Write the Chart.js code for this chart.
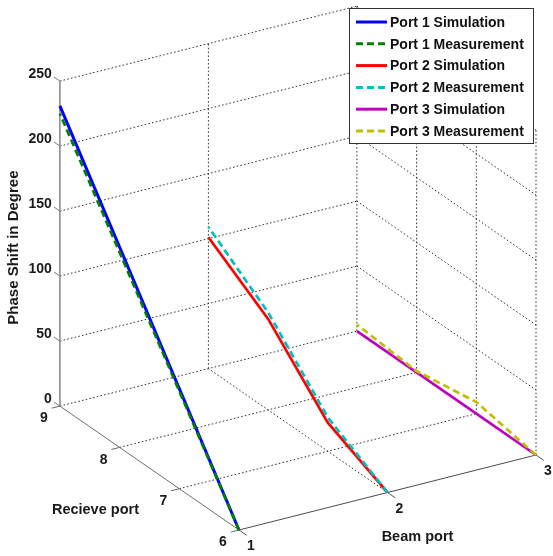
<!DOCTYPE html>
<html>
<head>
<meta charset="utf-8">
<script src="https://cdn.jsdelivr.net/npm/chart.js@4.4.0/dist/chart.umd.min.js"></script>
<style>
  html, body { margin: 0; padding: 0; background: #fff; }
  canvas { display: block; }
</style>
</head>
<body>
<canvas id="phaseChart" width="553" height="556"></canvas>
<script>
const beamPorts = [1, 2, 3];
const receivePorts = [6, 7, 8, 9];
const phaseTicks = [0, 50, 100, 150, 200, 250];

// phase (deg) at receive port 6, 7, 8, 9
const port1Sim = [0, 77, 154, 231];
const port1Meas = [0, 75, 150, 225];
const port2Sim = [0, 22, 70, 101];
const port2Meas = [0, 26, 75, 109];
const port3Sim = [0, 0, 0, 0];
const port3Meas = [0, 9, 1, 5];

const seriesNames = ["Port 1 Simulation", "Port 1 Measurement", "Port 2 Simulation",
  "Port 2 Measurement", "Port 3 Simulation", "Port 3 Measurement"];
const seriesBeam = [1, 1, 2, 2, 3, 3];
const seriesValues = [port1Sim, port1Meas, port2Sim, port2Meas, port3Sim, port3Meas];
const seriesColors = ["#0000ff", "#008000", "#ff0000", "#00bfbf", "#bf00bf", "#bfbf00"];

// 3d view: where beam 1 / receive 6 / 0 deg lands, and one step along each axis
const view = { ox: 239, oy: 530, bx: 148.5, by: -37.5, rx: -59.7, ry: -41.3, zy: -1.3 };
function proj(b, r, z) {
  return {
    x: view.ox + (b - 1) * view.bx + (r - 6) * view.rx,
    y: view.oy + (b - 1) * view.by + (r - 6) * view.ry + z * view.zy
  };
}

const bMin = beamPorts[0], bMax = beamPorts[beamPorts.length - 1];
const rMin = receivePorts[0], rMax = receivePorts[receivePorts.length - 1];
const zMax = phaseTicks[phaseTicks.length - 1];

// dotted grid on the back wall, side wall and floor
const grid = [];
phaseTicks.forEach(z => {
  grid.push([proj(bMin, rMax, z), proj(bMax, rMax, z)]);
  grid.push([proj(bMax, rMax, z), proj(bMax, rMin, z)]);
});
beamPorts.slice(1).forEach(b => grid.push([proj(b, rMax, 0), proj(b, rMax, zMax)]));
receivePorts.slice(0, -1).forEach(r => grid.push([proj(bMax, r, 0), proj(bMax, r, zMax)]));
receivePorts.slice(1, -1).forEach(r => grid.push([proj(bMin, r, 0), proj(bMax, r, 0)]));
beamPorts.slice(1, -1).forEach(b => grid.push([proj(b, rMin, 0), proj(b, rMax, 0)]));

// solid axes and tick marks
const axes = [
  { pts: [proj(bMin, rMax, 0), proj(bMin, rMax, zMax)], color: "#8c8c8c", w: 1.6 },
  { pts: [proj(bMin, rMax, 0), proj(bMin, rMin, 0)], color: "#6e6e6e", w: 1 },
  { pts: [proj(bMin, rMin, 0), proj(bMax, rMin, 0)], color: "#4a4a4a", w: 1 }
];
phaseTicks.forEach(z => axes.push({ pts: [proj(bMin, rMax, z), proj(bMin, rMax + 0.1, z)], color: "#777", w: 1 }));
receivePorts.forEach(r => axes.push({ pts: [proj(bMin, r, 0), proj(bMin - 0.055, r, 0)], color: "#666", w: 1 }));
beamPorts.forEach(b => axes.push({ pts: [proj(b, rMin, 0), proj(b, rMin - 0.13, 0)], color: "#555", w: 1 }));

const datasets = [];
grid.forEach(pts => datasets.push({
  data: pts, borderColor: "#333", borderWidth: 1, borderDash: [1.6, 2.2], order: 30, isFrame: true
}));
axes.forEach(a => datasets.push({
  data: a.pts, borderColor: a.color, borderWidth: a.w, order: 20, isFrame: true
}));
seriesValues.forEach((vals, i) => datasets.push({
  label: seriesNames[i],
  data: receivePorts.map((r, k) => proj(seriesBeam[i], r, vals[k])),
  borderColor: seriesColors[i],
  borderWidth: i === 0 ? 3 : 2.7,
  borderDash: i % 2 === 0 ? [] : [7, 4],
  order: 10 - i
}));

const font = '"Liberation Sans", Arial, sans-serif';

const labelsPlugin = {
  id: "labels3d",
  afterDatasetsDraw(chart) {
    const ctx = chart.ctx, sx = chart.scales.x, sy = chart.scales.y;
    const px = p => ({ x: sx.getPixelForValue(p.x), y: sy.getPixelForValue(p.y) });
    ctx.save();
    ctx.fillStyle = "#1a1a1a";
    ctx.font = "bold 14px " + font;
    ctx.textBaseline = "middle";

    ctx.textAlign = "right";
    phaseTicks.forEach(z => {
      const p = px(proj(bMin, rMax, z));
      ctx.fillText(String(z), p.x - 8, p.y - 7);
    });
    ctx.textAlign = "center";
    receivePorts.forEach(r => {
      const p = px(proj(bMin, r, 0));
      ctx.fillText(String(r), p.x - 16, p.y + 12.5);
    });
    beamPorts.forEach(b => {
      const p = px(proj(b, rMin, 0));
      ctx.fillText(String(b), p.x + 12, p.y + 16.5);
    });

    ctx.font = "bold 14.5px " + font;
    let p = px(proj(bMin, (rMin + rMax) / 2, 0));
    ctx.fillText("Recieve port", p.x - 54, p.y + 42);
    p = px(proj((bMin + bMax) / 2, rMin, 0));
    ctx.fillText("Beam port", p.x + 30, p.y + 44.5);
    ctx.font = "bold 15px " + font;
    p = px(proj(bMin, rMax, zMax / 2));
    ctx.translate(p.x - 46, p.y + 4);
    ctx.rotate(-Math.PI / 2);
    ctx.fillText("Phase Shift in Degree", 0, 0);
    ctx.restore();
  }
};

const legendPlugin = {
  id: "boxLegend",
  afterDraw(chart) {
    const ctx = chart.ctx;
    const box = { x: 349.5, y: 8.5, w: 184, h: 135 };
    ctx.save();
    ctx.fillStyle = "#fff";
    ctx.fillRect(box.x, box.y, box.w, box.h);
    ctx.strokeStyle = "#333";
    ctx.lineWidth = 1;
    ctx.strokeRect(box.x, box.y, box.w, box.h);
    ctx.font = "bold 14px " + font;
    ctx.textAlign = "left";
    ctx.textBaseline = "middle";
    chart.data.datasets.filter(d => !d.isFrame).forEach((d, i) => {
      const y = 22 + i * 21.8;
      ctx.strokeStyle = d.borderColor;
      ctx.lineWidth = 3;
      ctx.setLineDash(d.borderDash.length ? [7, 4] : []);
      ctx.beginPath();
      ctx.moveTo(356, y);
      ctx.lineTo(387, y);
      ctx.stroke();
      ctx.setLineDash([]);
      ctx.fillStyle = "#111";
      ctx.fillText(d.label, 390, y + 1);
    });
    ctx.restore();
  }
};

new Chart(document.getElementById("phaseChart").getContext("2d"), {
  type: "scatter",
  data: { datasets },
  options: {
    responsive: false,
    animation: false,
    devicePixelRatio: 1,
    layout: { padding: 0 },
    elements: { point: { radius: 0, hoverRadius: 0 }, line: { tension: 0 } },
    datasets: { scatter: { showLine: true } },
    scales: {
      x: { type: "linear", min: 0, max: 553, display: false },
      y: { type: "linear", min: 0, max: 556, reverse: true, display: false }
    },
    plugins: { legend: { display: false }, tooltip: { enabled: false } }
  },
  plugins: [labelsPlugin, legendPlugin]
});
</script>
</body>
</html>
